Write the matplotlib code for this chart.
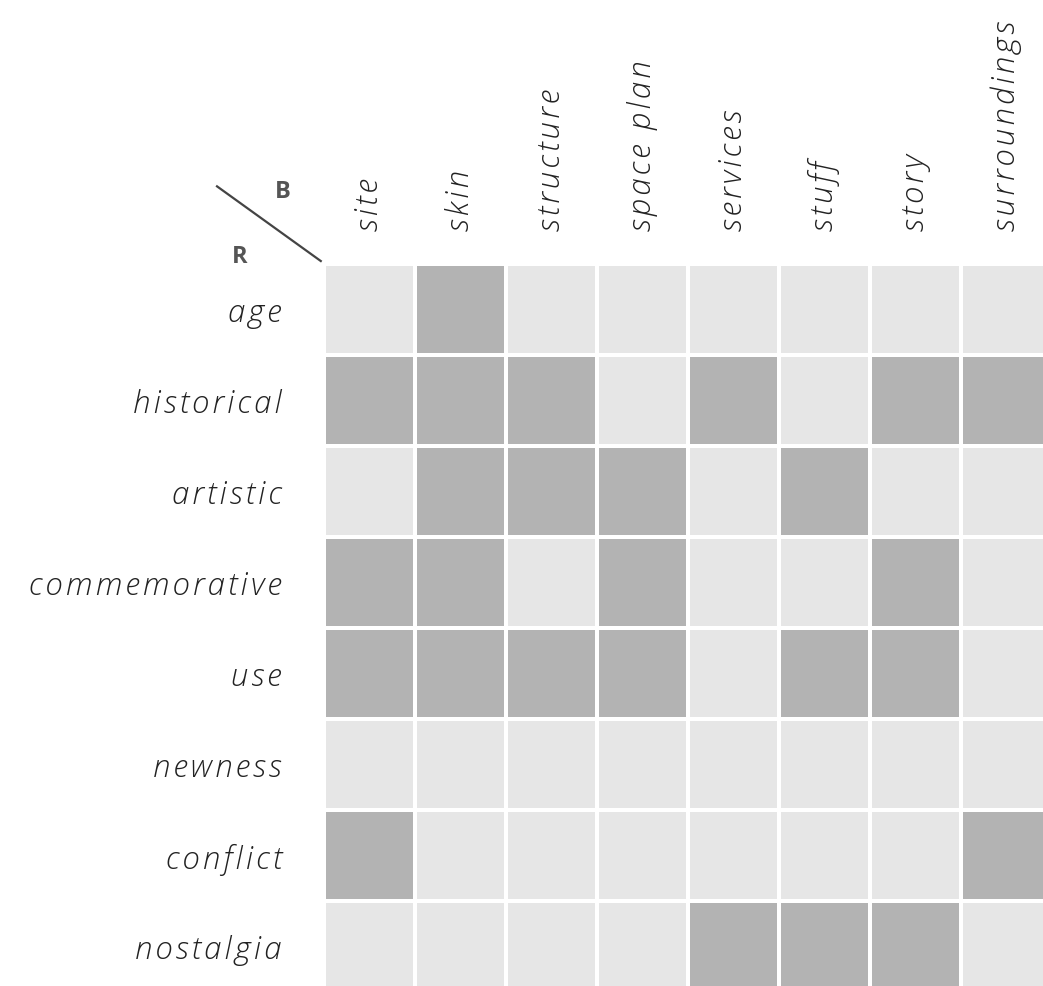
import matplotlib.pyplot as plt
import numpy as np
from matplotlib.colors import ListedColormap

rows = ["age", "historical", "artistic", "commemorative", "use",
        "newness", "conflict", "nostalgia"]
cols = ["site", "skin", "structure", "space plan", "services",
        "stuff", "story", "surroundings"]
# 1 = marked (dark cell), 0 = not marked
marks = np.array([
    [0, 1, 0, 0, 0, 0, 0, 0],
    [1, 1, 1, 0, 1, 0, 1, 1],
    [0, 1, 1, 1, 0, 1, 0, 0],
    [1, 1, 0, 1, 0, 0, 1, 0],
    [1, 1, 1, 1, 0, 1, 1, 0],
    [0, 0, 0, 0, 0, 0, 0, 0],
    [1, 0, 0, 0, 0, 0, 0, 1],
    [0, 0, 0, 0, 1, 1, 1, 0],
])


def spaced(s):
    # fake letter spacing with hair spaces
    return "\u200a".join(s)


W, H = 1043, 987
fig = plt.figure(figsize=(W / 100, H / 100), dpi=100)
cell = 91
x0, y0 = 323.5, 264.5
ax = fig.add_axes([x0 / W, 1 - (y0 + 8 * cell) / H, 8 * cell / W, 8 * cell / H])

cmap = ListedColormap(["#e6e6e6", "#b3b3b3"])
ax.pcolormesh(np.arange(9), np.arange(9), marks, cmap=cmap, vmin=0, vmax=1,
              edgecolors="white", linewidth=1.6)
ax.set_xlim(0, 8)
ax.set_ylim(8, 0)
for s in ax.spines.values():
    s.set_visible(False)

lab = dict(family=["Open Sans", "DejaVu Sans"], weight="light", style="italic",
           size=22.5, color="#222222")
ax.xaxis.tick_top()
ax.set_xticks(np.arange(8) + 0.5)
ax.set_xticklabels([spaced(c) for c in cols], rotation=90, **lab)
ax.set_yticks(np.arange(8) + 0.5)
ax.set_yticklabels([spaced(r) for r in rows], **lab)
ax.tick_params(length=0, axis="x", pad=24)
ax.tick_params(length=0, axis="y", pad=30)

ax.plot([-1.18, -0.02], [-0.855, -0.02], color="#444444", lw=1.6,
        clip_on=False, solid_capstyle="butt")
ax.text(-0.45, -0.80, "B", ha="center", va="center", fontsize=17,
        fontweight="bold", color="#555555", family="Open Sans")
ax.text(-0.92, -0.08, "R", ha="center", va="center", fontsize=17,
        fontweight="bold", color="#555555", family="Open Sans")

fig.savefig("out.png", dpi=100)
